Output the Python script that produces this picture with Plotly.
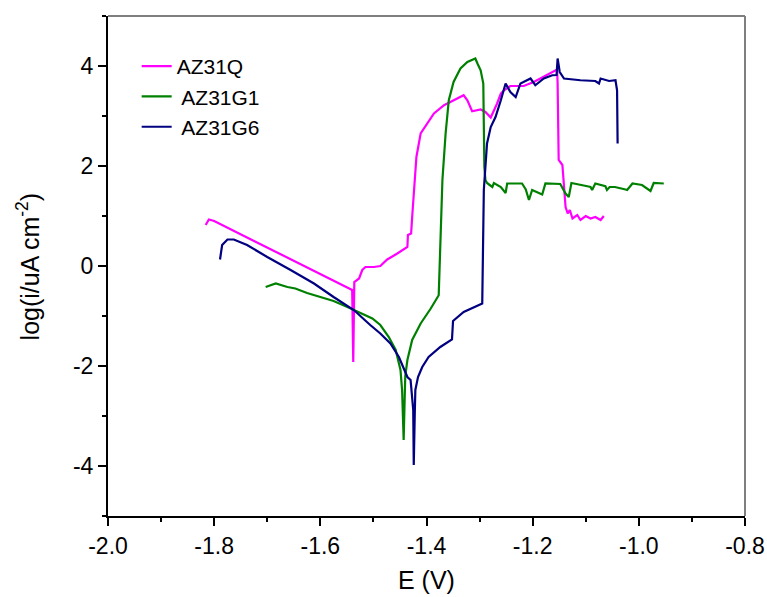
import plotly.graph_objects as go

# ---------------- data ----------------
q_E = [-1.816, -1.810, -1.800, -1.540, -1.538, -1.536, -1.527, -1.521, -1.515, -1.499,
       -1.487, -1.474, -1.455, -1.443, -1.436, -1.435, -1.429, -1.427, -1.424, -1.421,
       -1.419, -1.411, -1.399, -1.386, -1.367, -1.349, -1.330, -1.323, -1.314, -1.298,
       -1.289, -1.279, -1.267, -1.260, -1.254, -1.242, -1.217, -1.198, -1.166, -1.154,
       -1.153, -1.151, -1.144, -1.138, -1.134, -1.130, -1.125, -1.116, -1.110, -1.100,
       -1.091, -1.082, -1.072, -1.066]
q_logi = [0.82, 0.93, 0.90, -0.48, -1.92, -0.32, -0.25, -0.08, -0.02, -0.02,
          0.00, 0.13, 0.25, 0.33, 0.38, 0.62, 0.65, 0.98, 1.52, 1.92,
          2.18, 2.65, 2.85, 3.05, 3.215, 3.315, 3.415, 3.315, 3.095, 3.13,
          3.08, 2.97, 3.25, 3.45, 3.515, 3.60, 3.60, 3.68, 3.86, 3.93,
          3.65, 2.12, 2.02, 1.18, 1.05, 1.12, 0.95, 1.02, 0.92, 1.00,
          0.95, 0.98, 0.92, 1.00]

g1_E = [-1.703, -1.684, -1.662, -1.647, -1.625, -1.600, -1.575, -1.549, -1.524, -1.502,
        -1.487, -1.471, -1.458, -1.449, -1.446, -1.444, -1.443, -1.441, -1.440, -1.436,
        -1.427, -1.411, -1.392, -1.377, -1.374, -1.370, -1.364, -1.358, -1.349, -1.336,
        -1.323, -1.308, -1.304, -1.298, -1.293, -1.292, -1.291, -1.289, -1.286, -1.281,
        -1.276, -1.273, -1.260, -1.251, -1.248, -1.220, -1.213, -1.207, -1.201, -1.182,
        -1.176, -1.148, -1.138, -1.132, -1.127, -1.097, -1.091, -1.088, -1.082, -1.063,
        -1.060, -1.055, -1.045, -1.025, -1.022, -1.012, -0.994, -0.978, -0.972, -0.953]
g1_logi = [-0.42, -0.35, -0.42, -0.45, -0.54, -0.62, -0.70, -0.82, -0.95, -1.05,
           -1.18, -1.42, -1.68, -2.08, -2.48, -3.00, -3.48, -2.60, -2.20, -1.88,
           -1.48, -1.15, -0.85, -0.585, 0.25, 1.72, 2.65, 3.315, 3.68, 3.95,
           4.08, 4.15, 4.05, 3.915, 3.65, 2.98, 1.98, 1.72, 1.66, 1.62,
           1.58, 1.66, 1.58, 1.46, 1.65, 1.65, 1.53, 1.32, 1.52, 1.43,
           1.65, 1.64, 1.45, 1.38, 1.66, 1.595, 1.58, 1.52, 1.65, 1.595,
           1.52, 1.58, 1.58, 1.53, 1.52, 1.65, 1.62, 1.50, 1.66, 1.65]

g6_E = [-1.789, -1.785, -1.775, -1.763, -1.738, -1.700, -1.656, -1.612, -1.575, -1.537,
        -1.506, -1.487, -1.468, -1.452, -1.436, -1.430, -1.425, -1.424, -1.422, -1.421,
        -1.416, -1.408, -1.396, -1.374, -1.352, -1.350, -1.330, -1.311, -1.295, -1.292,
        -1.289, -1.286, -1.279, -1.270, -1.260, -1.251, -1.242, -1.232, -1.223, -1.204,
        -1.195, -1.179, -1.163, -1.155, -1.153, -1.149, -1.141, -1.110, -1.082, -1.075,
        -1.072, -1.056, -1.044, -1.041, -1.040]
g6_logi = [0.13, 0.42, 0.53, 0.53, 0.42, 0.18, -0.08, -0.35, -0.62, -0.88,
           -1.18, -1.35, -1.55, -1.82, -2.22, -2.28, -2.88, -3.98, -2.90, -2.48,
           -2.22, -2.02, -1.82, -1.62, -1.47, -1.10, -0.92, -0.83, -0.75, 1.52,
           1.92, 2.45, 2.78, 2.98, 3.315, 3.65, 3.48, 3.38, 3.65, 3.75,
           3.615, 3.75, 3.815, 3.82, 4.15, 3.88, 3.75, 3.715, 3.70, 3.65,
           3.75, 3.70, 3.715, 3.515, 2.45]

names = ["AZ31Q", " AZ31G1", " AZ31G6"]
colors = ["#FF00FF", "#008000", "#000080"]

x_ticks = [-2.0, -1.8, -1.6, -1.4, -1.2, -1.0, -0.8]
x_ticklabels = ["-2.0", "-1.8", "-1.6", "-1.4", "-1.2", "-1.0", "-0.8"]
y_ticks = [-4, -2, 0, 2, 4]
y_ticklabels = ["-4", "-2", "0", "2", "4"]

FONT = "Liberation Sans, Arial, sans-serif"

fig = go.Figure()
for xs, ys, nm, c in zip([q_E, g1_E, g6_E], [q_logi, g1_logi, g6_logi], names, colors):
    fig.add_trace(go.Scatter(x=xs, y=ys, mode="lines", name=nm,
                             line=dict(color=c, width=2.2)))

axis_common = dict(
    showgrid=False, zeroline=False, showline=True, linecolor="black", linewidth=2,
    ticks="outside", ticklen=8, tickwidth=2, tickcolor="black", automargin=False,
    tickfont=dict(family=FONT, size=23, color="black"),
    minor=dict(ticks="outside", ticklen=4, tickwidth=2, tickcolor="black"),
)

fig.update_xaxes(range=[-2.0, -0.8], tickvals=x_ticks, ticktext=x_ticklabels,
                 minor_dtick=0.1, **axis_common)
fig.update_yaxes(range=[-5, 5], tickvals=y_ticks, ticktext=y_ticklabels,
                 minor_dtick=1, **axis_common)

# top and right frame lines (gray)
fig.add_shape(type="line", xref="paper", yref="paper", x0=0, x1=1, y0=1, y1=1,
              line=dict(color="#7f7f7f", width=2))
fig.add_shape(type="line", xref="paper", yref="paper", x0=1, x1=1, y0=0, y1=1,
              line=dict(color="#7f7f7f", width=2))

fig.add_annotation(text="E (V)", xref="paper", yref="paper", x=0.5, y=-0.128,
                   xanchor="center", yanchor="middle", showarrow=False,
                   font=dict(family=FONT, size=25, color="black"))
fig.add_annotation(text="log(i/uA cm<sup>-2</sup>)", xref="paper", yref="paper",
                   x=-0.125, y=0.5, textangle=-90, xanchor="center", yanchor="middle",
                   showarrow=False, font=dict(family=FONT, size=25, color="black"))

fig.update_layout(
    width=767, height=597,
    margin=dict(l=108, r=22, t=16, b=81, autoexpand=False),
    paper_bgcolor="white", plot_bgcolor="white",
    showlegend=True,
    legend=dict(x=0.045, y=0.94, xanchor="left", yanchor="top",
                bgcolor="rgba(0,0,0,0)", borderwidth=0,
                font=dict(family=FONT, size=21, color="black"),
                tracegroupgap=0, itemwidth=30),
)

fig.write_html("out.html")
